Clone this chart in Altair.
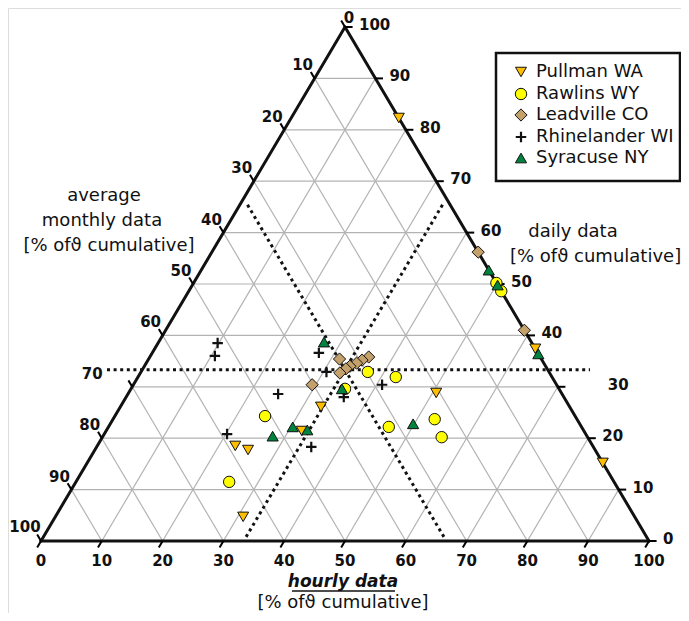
import altair as alt
import pandas as pd

# ---------------- data: hourly %, daily % (monthly = 100 - hourly - daily) ----------------
pullman_hourly = [17.7, 84.8, 62.6, 50.6, 33.0, 32.2, 22.7, 25.2, 30.9]
pullman_daily = [82.3, 15.2, 37.4, 28.8, 26.1, 21.4, 18.5, 17.7, 4.7]
rawlins_hourly = [49.8, 51.4, 37.3, 42.4, 35.2, 24.7, 46.1, 52.9, 55.8, 25.2]
rawlins_daily = [50.2, 48.6, 32.9, 31.9, 29.6, 24.3, 22.2, 23.7, 20.2, 11.5]
leadville_hourly = [43.8, 59.0, 31.4, 36.0, 35.2, 34.6, 33.8, 33.4, 32.8, 29.4]
leadville_daily = [56.2, 41.0, 35.4, 35.8, 35.2, 34.6, 34.0, 33.5, 32.7, 30.4]
rhinelander_hourly = [9.8, 10.6, 27.4, 30.5, 24.7, 35.8, 40.9, 20.2, 35.3]
rhinelander_daily = [38.5, 36.0, 36.6, 32.9, 28.6, 28.0, 30.4, 20.8, 18.3]
syracuse_hourly = [47.3, 50.2, 63.6, 27.2, 34.7, 30.3, 33.0, 27.9, 49.8]
syracuse_daily = [52.7, 49.8, 36.4, 38.7, 29.6, 22.2, 21.6, 20.4, 22.8]

series_names = ["Pullman WA", "Rawlins WY", "Leadville CO", "Rhinelander WI", "Syracuse NY"]
tick_values = [0, 10, 20, 30, 40, 50, 60, 70, 80, 90, 100]
third = 100.0 / 3.0

GLYPH = "\u03d1"
bottom_title = "hourly data"
right_title = "daily data"
left_title = ["average", "monthly data"]
unit_title = "[% of" + GLYPH + " cumulative]"

# ---------------- geometry helpers ----------------
SX, SY = 6.08, 5.14          # pixels per unit along x / y
OX, OY = 41.0, 541.0         # page pixel of (hourly 0, daily 0)
W, H = 673, 605
XMIN = -(OX - 8) / SX
XMAX = XMIN + W / SX
YMAX = (OY - 8) / SY
YMIN = YMAX - H / SY


def tern(h, d):
    return h + d / 2.0, d


def px(xp, yp):
    return (xp - OX) / SX, (OY - yp) / SY


xs = alt.Scale(domain=[XMIN, XMAX], nice=False, zero=False)
ys = alt.Scale(domain=[YMIN, YMAX], nice=False, zero=False)


def segs(rows):
    return pd.DataFrame(rows, columns=["x", "y", "x2", "y2"])


def rule_layer(df, **kw):
    return alt.Chart(df).mark_rule(**kw).encode(
        x=alt.X("x:Q", scale=xs, axis=None),
        y=alt.Y("y:Q", scale=ys, axis=None),
        x2="x2:Q", y2="y2:Q")


# grid lines
grid = []
for k in tick_values[1:-1]:
    a = tern(0, k); b = tern(100 - k, k); grid.append([*a, *b])        # daily const
    a = tern(k, 0); b = tern(k, 100 - k); grid.append([*a, *b])        # hourly const
    a = tern(100 - k, 0); b = tern(0, 100 - k); grid.append([*a, *b])  # monthly const
grid_layer = rule_layer(segs(grid), color="#b3b3b3", strokeWidth=1.2)

# tick marks (extensions of grid lines outward)
tl = 1.25
ticks = []
for k in tick_values:
    a = tern(100 - k, k); ticks.append([a[0], a[1], a[0] + 1.25, a[1]])           # right side
    a = tern(0, 100 - k); b = tern(-tl, 100 - k + tl); ticks.append([*a, *b])      # left side
    a = tern(k, 0); b = tern(k, -tl); ticks.append([*a, *b])                       # bottom
tick_layer = rule_layer(segs(ticks), color="black", strokeWidth=2)

# triangle border
A, B, C = tern(0, 0), tern(100, 0), tern(0, 100)
border_layer = rule_layer(segs([[*A, *B], [*B, *C], [*C, *A]]), color="#111111",
                          strokeWidth=3, strokeCap="round")

# dotted 1/3 lines
dots = []
lx, _ = px(107, 0); rx, _ = px(590, 0)
dots.append([lx, third, rx, third])
a = tern(third, 0.8); b = tern(third, 100 - third - 1.2); dots.append([*a, *b])
a = tern(100 - third - 0.8, 0.8); b = tern(1.2, 100 - third - 1.2); dots.append([*a, *b])
dot_layer = rule_layer(segs(dots), color="#111111", strokeWidth=3, strokeDash=[3, 3.6])

# ---------------- axis labels ----------------
lab = []
for k in tick_values:
    # bottom (hourly)
    x, y = tern(k, 0)
    lab.append([x, y - 20 / SY, str(k), "center"])
    # right (daily)
    x, y = tern(100 - k, k)
    dx = 14 if k != 30 else 50
    lab.append([x + dx / SX, y + 2 / SY, str(k), "left"])
    # left (monthly)
    x, y = tern(0, 100 - k)
    if k == 0:
        dx, dy = 4, 9
    elif k == 70:
        dx, dy = -40, 13
    elif k == 100:
        dx, dy = -16, 14
    else:
        dx, dy = -12, 13
    lab.append([x + dx / SX, y + dy / SY, str(k), "center"])
lab_df = pd.DataFrame(lab, columns=["x", "y", "t", "align"])
label_layers = []
for al in ["center", "left"]:
    label_layers.append(
        alt.Chart(lab_df[lab_df["align"] == al]).mark_text(
            font="DejaVu Sans", fontWeight="bold", fontSize=15, color="#111111",
            align=al, baseline="middle").encode(
            x=alt.X("x:Q", scale=xs, axis=None), y=alt.Y("y:Q", scale=ys, axis=None),
            text="t:N"))

# ---------------- titles ----------------
tt = []
x, y = px(104, 196); tt.append([x, y, left_title[0], "center"])
x, y = px(102, 221); tt.append([x, y, left_title[1], "center"])
x, y = px(109, 246); tt.append([x, y, unit_title, "center"])
x, y = px(573, 232); tt.append([x, y, right_title, "center"])
x, y = px(510, 257); tt.append([x, y, unit_title, "left"])
x, y = px(343, 603); tt.append([x, y, unit_title, "center"])
tt_df = pd.DataFrame(tt, columns=["x", "y", "t", "align"])
title_layers = []
for al in ["center", "left"]:
    title_layers.append(
        alt.Chart(tt_df[tt_df["align"] == al]).mark_text(
            font="DejaVu Sans", fontSize=18, color="#111111", align=al,
            baseline="middle").encode(
            x=alt.X("x:Q", scale=xs, axis=None), y=alt.Y("y:Q", scale=ys, axis=None),
            text="t:N"))
bx, by = px(343, 582)
bt_df = pd.DataFrame([[bx, by, bottom_title]], columns=["x", "y", "t"])
bottom_title_layer = alt.Chart(bt_df).mark_text(
    font="DejaVu Sans", fontSize=17, fontWeight="bold", fontStyle="italic",
    color="#111111", align="center", baseline="middle").encode(
    x=alt.X("x:Q", scale=xs, axis=None), y=alt.Y("y:Q", scale=ys, axis=None), text="t:N")
ux1, uy = px(292, 591); ux2, _ = px(395, 591)
underline_layer = rule_layer(segs([[ux1, uy, ux2, uy]]), color="#111111", strokeWidth=1.5)

# ---------------- data points ----------------
styles = {
    "Pullman WA": dict(shape="triangle-down", fill="#FFBF00", size=120),
    "Rawlins WY": dict(shape="circle", fill="#FFFF00", size=130),
    "Leadville CO": dict(shape="diamond", fill="#C4A16A", size=150),
    "Rhinelander WI": dict(shape="M-1,0L1,0M0,-1L0,1", fill=None, size=110),
    "Syracuse NY": dict(shape="triangle-up", fill="#00843D", size=125),
}
series_data = {
    "Pullman WA": (pullman_hourly, pullman_daily),
    "Rawlins WY": (rawlins_hourly, rawlins_daily),
    "Leadville CO": (leadville_hourly, leadville_daily),
    "Rhinelander WI": (rhinelander_hourly, rhinelander_daily),
    "Syracuse NY": (syracuse_hourly, syracuse_daily),
}


def point_mark(name):
    st = styles[name]
    if st["fill"] is None:
        return dict(shape=st["shape"], filled=False, stroke="#111111", strokeWidth=2.2,
                    size=st["size"], opacity=1)
    return dict(shape=st["shape"], filled=True, fill=st["fill"], stroke="#111111",
                strokeWidth=1, size=st["size"], opacity=1)


point_layers = []
for name in series_names:
    hh, dd = series_data[name]
    df = pd.DataFrame({"hourly": hh, "daily": dd})
    df["monthly"] = 100 - df["hourly"] - df["daily"]
    df["x"] = df["hourly"] + df["daily"] / 2.0
    df["y"] = df["daily"]
    point_layers.append(alt.Chart(df).mark_point(**point_mark(name)).encode(
        x=alt.X("x:Q", scale=xs, axis=None), y=alt.Y("y:Q", scale=ys, axis=None)))

# ---------------- legend ----------------
lx1, ly1 = px(496, 53); lx2, ly2 = px(680, 181)
box_df = pd.DataFrame([[lx1, ly1, lx2, ly2]], columns=["x", "y", "x2", "y2"])
box_layer = alt.Chart(box_df).mark_rect(fill="white", stroke="#111111", strokeWidth=2.5).encode(
    x=alt.X("x:Q", scale=xs, axis=None), y=alt.Y("y:Q", scale=ys, axis=None),
    x2="x2:Q", y2="y2:Q")
row_py = [72, 94, 115, 137, 158]
legend_layers = []
for name, rp in zip(series_names, row_py):
    sx, sy = px(521, rp)
    legend_layers.append(alt.Chart(pd.DataFrame({"x": [sx], "y": [sy]})).mark_point(
        **point_mark(name)).encode(
        x=alt.X("x:Q", scale=xs, axis=None), y=alt.Y("y:Q", scale=ys, axis=None)))
    tx, ty = px(536, rp)
    legend_layers.append(alt.Chart(pd.DataFrame({"x": [tx], "y": [ty], "t": [name]})).mark_text(
        font="DejaVu Sans", fontSize=18, color="#111111", align="left", baseline="middle").encode(
        x=alt.X("x:Q", scale=xs, axis=None), y=alt.Y("y:Q", scale=ys, axis=None), text="t:N"))

chart = alt.layer(
    grid_layer, dot_layer, border_layer, tick_layer, *label_layers, *title_layers,
    bottom_title_layer, underline_layer, *point_layers, box_layer, *legend_layers
).properties(
    width=W, height=H, padding=0,
    autosize=alt.AutoSizeParams(type="none"),
).configure_view(stroke=None).configure(background="white")

chart.save("out.html", embed_options={"renderer": "svg", "actions": False})
